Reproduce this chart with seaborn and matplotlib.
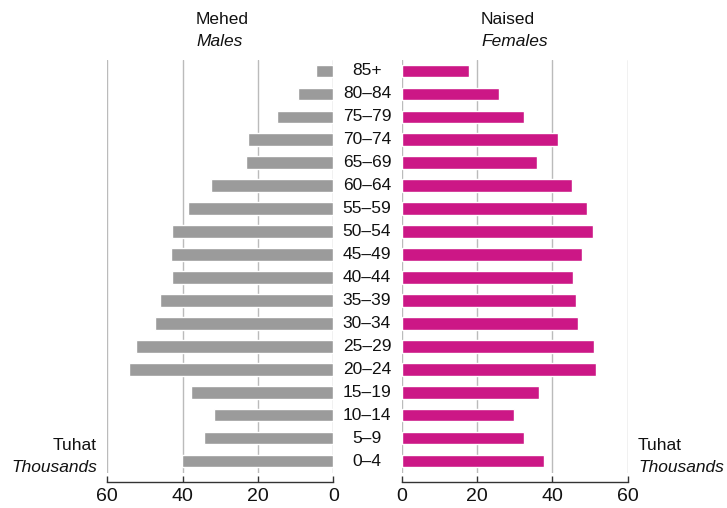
import matplotlib
matplotlib.use("Agg")
import matplotlib.pyplot as plt
import seaborn as sns
import pandas as pd

ages = ["85+", "80–84", "75–79", "70–74", "65–69", "60–64", "55–59", "50–54",
        "45–49", "40–44", "35–39", "30–34", "25–29", "20–24", "15–19", "10–14",
        "5–9", "0–4"]
males = [4.6, 9.4, 15.0, 22.7, 23.3, 32.6, 38.5, 42.7, 43.0, 42.7, 46.0, 47.3,
         52.3, 54.2, 37.9, 31.8, 34.2, 40.1]
females = [17.9, 25.9, 32.5, 41.6, 36.0, 45.1, 49.1, 50.7, 48.0, 45.6, 46.4,
           46.7, 51.2, 51.7, 36.5, 29.9, 32.5, 37.9]
xticks = [0, 20, 40, 60]

sns.set_theme(style="white")
plt.rcParams["font.family"] = ["Liberation Sans", "DejaVu Sans"]

df = pd.DataFrame({"age": ages, "males": males, "females": females})

W, H = 727, 508
fig = plt.figure(figsize=(W / 100, H / 100), dpi=100)
axL = fig.add_axes([107.3 / W, 1 - 472.5 / H, 226 / W, 413 / H])
axR = fig.add_axes([402 / W, 1 - 472.5 / H, 225.5 / W, 413 / H])

grey = "#9b9b9b"
mag = "#cc1786"

sns.barplot(data=df, y="age", x="males", ax=axL, color=grey, orient="h",
            width=0.55, saturation=1, order=ages)
sns.barplot(data=df, y="age", x="females", ax=axR, color=mag, orient="h",
            width=0.55, saturation=1, order=ages)

for ax in (axL, axR):
    ax.set_ylabel("")
    ax.set_xlabel("")
    ax.set_yticks([])
    ax.set_xticks(xticks)
    ax.set_ylim(17.5, -0.5)
    for s in ("top", "left", "right"):
        ax.spines[s].set_visible(False)
    ax.spines["bottom"].set_position(("outward", 7))
    ax.spines["bottom"].set_color("#333333")
    ax.spines["bottom"].set_linewidth(1.0)
    ax.tick_params(axis="x", direction="in", length=4.5, width=1.0,
                   color="#333333", labelsize=14, pad=4.5, bottom=True,
                   labelcolor="#111111")
    for xv in xticks:
        ax.axvline(xv, color="#bbbbbb", lw=1.0, zorder=0)
    ax.set_axisbelow(True)

axL.set_xlim(60, 0)
axR.set_xlim(0, 60)

# age labels in middle
for i, a in enumerate(ages):
    axR.text(-35 / 3.75, i, a, ha="center", va="center", fontsize=12.5,
             color="#111111", clip_on=False)

fs = 12.5
fig.text(196 / W, 1 - 20 / H, "Mehed", ha="left", va="center", fontsize=fs, color="#111111")
fig.text(196 / W, 1 - 42 / H, "Males", ha="left", va="center", fontsize=fs, style="italic", color="#111111")
fig.text(481 / W, 1 - 20 / H, "Naised", ha="left", va="center", fontsize=fs, color="#111111")
fig.text(481 / W, 1 - 42 / H, "Females", ha="left", va="center", fontsize=fs, style="italic", color="#111111")

fig.text(97 / W, 1 - 445 / H, "Tuhat", ha="right", va="center", fontsize=fs, color="#111111")
fig.text(97 / W, 1 - 467 / H, "Thousands", ha="right", va="center", fontsize=fs, style="italic", color="#111111")
fig.text(638 / W, 1 - 445 / H, "Tuhat", ha="left", va="center", fontsize=fs, color="#111111")
fig.text(638 / W, 1 - 467 / H, "Thousands", ha="left", va="center", fontsize=fs, style="italic", color="#111111")

fig.savefig("out.png", dpi=100)
